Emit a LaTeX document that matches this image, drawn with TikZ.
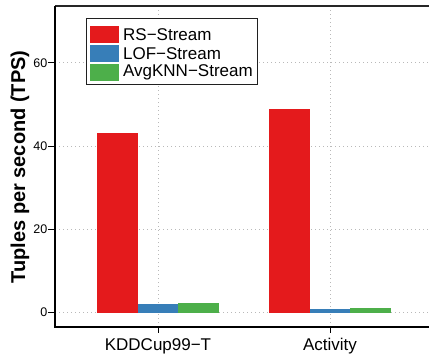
\documentclass[tikz,border=0pt]{standalone}
\usepackage{fontspec}
\setmainfont{Liberation Sans}
\usetikzlibrary{positioning}
\definecolor{rsred}{HTML}{E41A1C}
\definecolor{lofblue}{HTML}{377EB8}
\definecolor{knngreen}{HTML}{4DAF4A}
\newcommand\tpsfont{\fontsize{17}{19}\selectfont}

\begin{document}
\begin{tikzpicture}[x=1pt, y=1pt,
  gridline/.style = {draw=gray!55, line width=0.9pt, dash pattern=on 1.2pt off 2.8pt},
  axisline/.style = {draw=black, line width=1.4pt},
  swatch/.style = {inner sep=0pt, minimum width=29.3pt, minimum height=17.4pt},
  legtext/.style = {inner sep=0pt, anchor=west, font=\tpsfont}]
  \useasboundingbox (0,0) rectangle (429,358);
  % grid
  \draw[gridline] (158,31) -- (158,352);
  \draw[gridline] (330,31) -- (330,352);
  \begin{scope}[yshift=45.3pt, y=4.165pt]
    \foreach \v in {0,20,40,60} {
      \draw[gridline] (55,\v) -- (429,\v);
      \draw[line width=1pt] (48,\v) -- (55,\v);
      \node[anchor=east, inner sep=0.4pt, font=\fontsize{12.5}{14}\selectfont] (tick\v) at (48,\v) {\v};
    }
    % bars
    \foreach \x/\v/\c in {97/43.2/rsred, 137.7/2.1/lofblue, 178.3/2.3/knngreen,
                          269/48.9/rsred, 309.7/0.9/lofblue, 350.3/1.1/knngreen}
      \fill[\c] (\x,0) rectangle ++(40.7,\v);
  \end{scope}
  % axes
  \draw[draw=gray!30!black, line width=1.3pt] (55,352) -- (429,352);
  \draw[axisline] (55,352) -- (55,31) -- (429,31);
  \draw[line width=1pt] (158,31) -- (158,25);
  \draw[line width=1pt] (330,31) -- (330,25);
  \node[anchor=base, inner sep=0pt, font=\tpsfont] (kdd) at (158,7) {KDDCup99−T};
  \node[anchor=base, inner sep=0pt, font=\tpsfont] (act) at (330,7) {Activity};
  \node[rotate=90, anchor=base, inner sep=0pt, font=\fontsize{20}{22}\bfseries] (ylab) at (25,191) {Tuples per second (TPS)};
  % legend
  \draw[draw=gray!25!black, fill=white, line width=1pt] (86,273) rectangle (257.7,339.7);
  \node[swatch, fill=rsred] (swRS) at (104.7,323.2) {};
  \node[swatch, fill=lofblue, below=1.2pt of swRS] (swLOF) {};
  \node[swatch, fill=knngreen, below=1.2pt of swLOF] (swKNN) {};
  \node[legtext, right=3.4pt of swRS] (txtRS) {RS−Stream};
  \node[legtext, right=3.4pt of swLOF] (txtLOF) {LOF−Stream};
  \node[legtext, right=3.4pt of swKNN] (txtKNN) {AvgKNN−Stream};
\end{tikzpicture}
\end{document}
